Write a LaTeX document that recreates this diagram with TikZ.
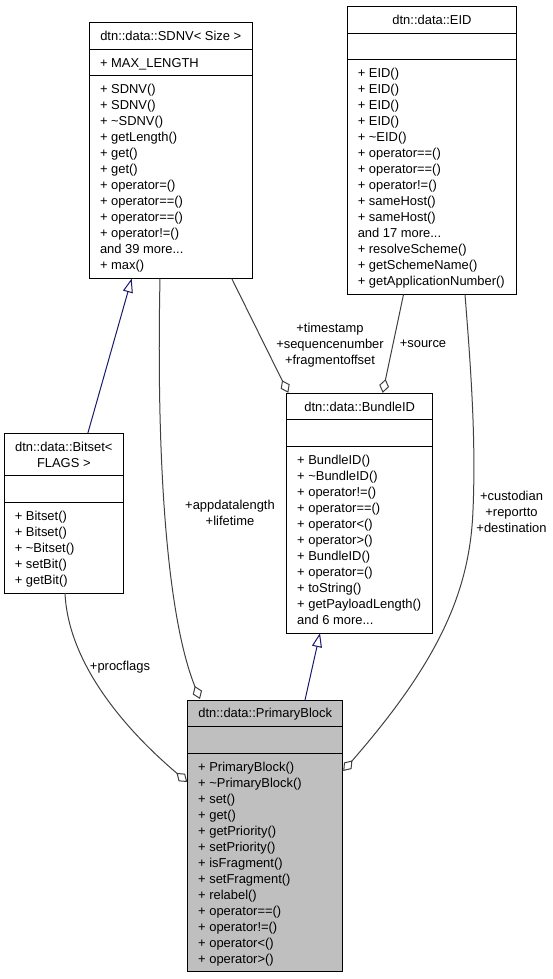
\documentclass[tikz,border=0pt]{standalone}
\usepackage{fontspec}
\setmainfont{Liberation Sans}
\usetikzlibrary{fit,calc,arrows.meta}
\definecolor{edgegray}{HTML}{404040}
\definecolor{inhblue}{HTML}{191970}
\definecolor{pbfill}{HTML}{BFBFBF}
\newcommand\mydots{...}
\begin{document}
\begin{tikzpicture}[x=0.75pt,y=-0.75pt,
  every node/.style={inner sep=0pt,outer sep=0pt,font=\fontsize{9.7}{12}\selectfont},
  cls/.style={draw=black,line width=0.75pt},
  sepline/.style={draw=black,line width=0.75pt},
  mtxt/.style={anchor=base west},
  ttl/.style={anchor=base},
  elabel/.style={anchor=base},
  inh/.style={draw=inhblue,line width=0.75pt,-{Triangle[open,length=10.5pt,width=7.5pt]}},
  agg/.style={draw=edgegray,line width=0.75pt,-{Diamond[open,length=10.5pt,width=7.5pt]}}]
\useasboundingbox (0,0) rectangle (553,979);

% ---------- SDNV ----------
\node[cls,fit={(89.5,22.7) (252,278.5)}] (sdnv) {};
\draw[sepline] ($(sdnv.north west)+(0,26.6)$) -- ($(sdnv.north east)+(0,26.6)$);
\draw[sepline] ($(sdnv.north west)+(0,53.2)$) -- ($(sdnv.north east)+(0,53.2)$);
\node[ttl] (sdnvt) at (170.75,40.6) {dtn::data::SDNV< Size >};
\node[mtxt] (sdnva) at (100,67.2) {+ MAX\_LENGTH};
\foreach \t [count=\i] in {+ SDNV(),+ SDNV(),+ \textasciitilde SDNV(),+ getLength(),+ get(),+ get(),+ operator=(),+ operator==(),+ operator==(),+ operator!=(),and 39 more\mydots,+ max()}
  \node[mtxt] (sdnvm\i) at (100,{77.8+16*\i}) {\t};

% ---------- EID ----------
\node[cls,fit={(347.3,6.7) (516.7,294.5)}] (eid) {};
\draw[sepline] ($(eid.north west)+(0,26.6)$) -- ($(eid.north east)+(0,26.6)$);
\draw[sepline] ($(eid.north west)+(0,53.2)$) -- ($(eid.north east)+(0,53.2)$);
\node[ttl] (eidt) at (432,24.6) {dtn::data::EID};
\foreach \t [count=\i] in {+ EID(),+ EID(),+ EID(),+ EID(),+ \textasciitilde EID(),+ operator==(),+ operator==(),+ operator!=(),+ sameHost(),+ sameHost(),and 17 more\mydots,+ resolveScheme(),+ getSchemeName(),+ getApplicationNumber()}
  \node[mtxt] (eidm\i) at (357.8,{61.8+16*\i}) {\t};

% ---------- Bitset ----------
\node[cls,fit={(4.3,433.3) (123.3,593.1)}] (bitset) {};
\draw[sepline] ($(bitset.north west)+(0,42.6)$) -- ($(bitset.north east)+(0,42.6)$);
\draw[sepline] ($(bitset.north west)+(0,69.2)$) -- ($(bitset.north east)+(0,69.2)$);
\node[ttl] (bitsett1) at (63.8,451.2) {dtn::data::Bitset<};
\node[ttl] (bitsett2) at (63.8,467.2) {FLAGS >};
\foreach \t [count=\i] in {+ Bitset(),+ Bitset(),+ \textasciitilde Bitset(),+ setBit(),+ getBit()}
  \node[mtxt] (bitsetm\i) at (14.8,{504.4+16*\i}) {\t};

% ---------- BundleID ----------
\node[cls,fit={(286.7,393.3) (432.7,633.1)}] (bundle) {};
\draw[sepline] ($(bundle.north west)+(0,26.6)$) -- ($(bundle.north east)+(0,26.6)$);
\draw[sepline] ($(bundle.north west)+(0,53.2)$) -- ($(bundle.north east)+(0,53.2)$);
\node[ttl] (bundlet) at (359.7,411.2) {dtn::data::BundleID};
\foreach \t [count=\i] in {+ BundleID(),+ \textasciitilde BundleID(),+ operator!=(),+ operator==(),+ operator<(),+ operator>(),+ BundleID(),+ operator=(),+ toString(),+ getPayloadLength(),and 6 more\mydots}
  \node[mtxt] (bundlem\i) at (297.2,{448.4+16*\i}) {\t};

% ---------- PrimaryBlock ----------
\node[cls,fill=pbfill,fit={(187.7,700) (342.7,971.8)}] (pb) {};
\draw[sepline] ($(pb.north west)+(0,26.6)$) -- ($(pb.north east)+(0,26.6)$);
\draw[sepline] ($(pb.north west)+(0,53.2)$) -- ($(pb.north east)+(0,53.2)$);
\node[ttl] (pbt) at (265.2,717.9) {dtn::data::PrimaryBlock};
\foreach \t [count=\i] in {+ PrimaryBlock(),+ \textasciitilde PrimaryBlock(),+ set(),+ get(),+ getPriority(),+ setPriority(),+ isFragment(),+ setFragment(),+ relabel(),+ operator==(),+ operator!=(),+ operator<(),+ operator>()}
  \node[mtxt] (pbm\i) at (198.2,{755.1+16*\i}) {\t};

% ---------- connectors ----------
\draw[inh] ($(bitset.north west)+(83.5,0)$) -- ($(sdnv.south west)+(42.2,0)$);
\draw[inh] ($(pb.north west)+(117.3,0)$) -- ($(bundle.south west)+(33.3,0)$);

\draw[agg] ($(sdnv.south west)+(70.5,0)$) .. controls (156,470) and (168,620) .. ($(pb.north west)+(12.3,-1)$);
\draw[agg] ($(bitset.south west)+(60.7,0)$) .. controls (68,660) and (120,725) .. ($(pb.north west)+(-0.5,82)$);
\draw[agg] ($(sdnv.south west)+(142.2,0)$) -- ($(bundle.north west)+(1.6,-0.5)$);
\draw[agg] ($(eid.south west)+(56.2,0)$) -- ($(bundle.north west)+(96,-0.5)$);
\draw[agg] ($(eid.south west)+(117.7,0)$) .. controls (471,370) and (476,440) .. (473,510)
  .. controls (470,590) and (440,660) .. ($(pb.north east)+(0.5,71)$);

% ---------- edge labels ----------
\node[elabel] (l1a) at (230,509) {+appdatalength};
\node[elabel] (l1b) at (230,525) {+lifetime};
\node[elabel] (l2) at (120,670.5) {+procflags};
\node[elabel] (l3a) at (330,332) {+timestamp};
\node[elabel] (l3b) at (330,348) {+sequencenumber};
\node[elabel] (l3c) at (330,364) {+fragmentoffset};
\node[elabel] (l4) at (423,347.5) {+source};
\node[elabel] (l5a) at (511.5,500.7) {+custodian};
\node[elabel] (l5b) at (511.5,516.7) {+reportto};
\node[elabel] (l5c) at (511.5,532.7) {+destination};
\end{tikzpicture}
\end{document}
